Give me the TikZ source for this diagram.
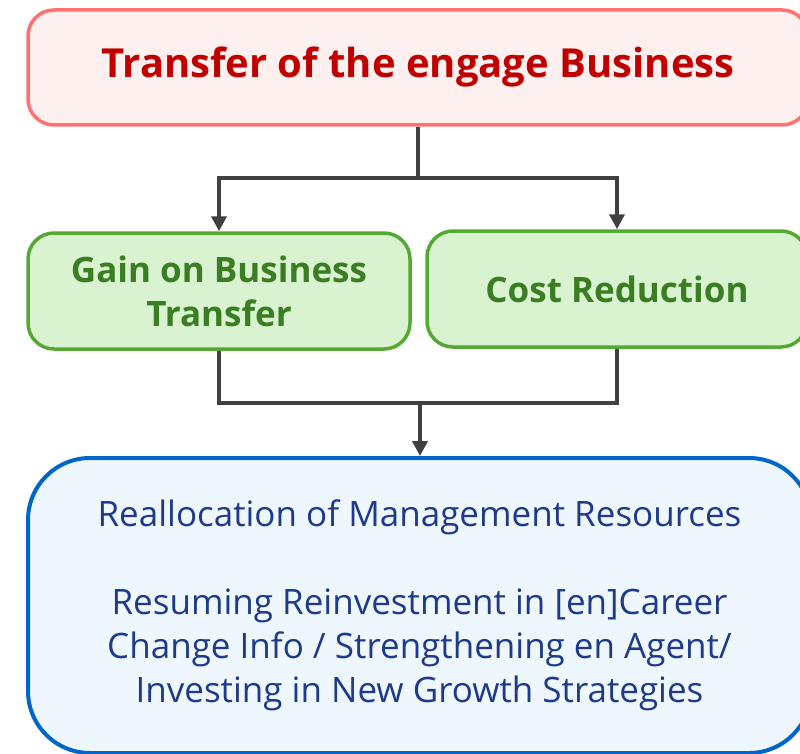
\documentclass[tikz,border=0pt]{standalone}
\usepackage{fontspec}
\setmainfont{Open Sans}
\usepackage{tikz}
\usetikzlibrary{arrows.meta,positioning}
\definecolor{headline}{HTML}{FF7070}
\definecolor{headfill}{HTML}{FDF0EE}
\definecolor{headtext}{HTML}{C00000}
\definecolor{effline}{HTML}{55A834}
\definecolor{efffill}{HTML}{D9F2D0}
\definecolor{efftext}{HTML}{3A7D22}
\definecolor{resline}{HTML}{0066CC}
\definecolor{resfill}{HTML}{EEF6FE}
\definecolor{restext}{HTML}{1F3A8A}
\definecolor{wire}{HTML}{404040}

\tikzset{
  headbox/.style={draw=headline, fill=headfill, line width=3.5pt, rounded corners=26pt,
    text=headtext, font=\fontsize{40}{44}\selectfont\bfseries,
    minimum width=780pt, minimum height=115pt},
  effbox/.style={draw=effline, fill=efffill, line width=3.5pt, rounded corners=26pt,
    text=efftext, font=\fontsize{35}{44}\selectfont\bfseries, align=center,
    minimum height=116pt},
  resbox/.style={draw=resline, fill=resfill, line width=4pt, rounded corners=62pt,
    text=restext, font=\fontsize{35}{44}\selectfont, align=center,
    minimum width=783pt, minimum height=295pt},
  wire/.style={draw=wire, line width=4.5pt},
}

\begin{document}
\begin{tikzpicture}[x=1pt,y=-1pt,>={Triangle[width=15pt,length=15pt]}]
        \useasboundingbox (0,0) rectangle (800,754);
        \path
        (418,67.5) node[headbox](head) {Transfer of the engage Business}
        (219,291) node[effbox,minimum width=382pt](gain) {Gain on Business\\Transfer}
        (617,289) node[effbox,minimum width=380pt](cost) {Cost Reduction}
        (419.5,605.5) node[resbox](res) {Reallocation of Management Resources\\[44pt]
          Resuming Reinvestment in [en]Career\\
          Change Info / Strengthening en Agent/\\
          Investing in New Growth Strategies}
        ;
        % split below the headline, merge above the result
        \coordinate (split) at (418,178);
        \coordinate (merge) at (420,403);

        \draw[wire] (head.south) -- (split);
        \draw[wire,->] (split) -| (gain.north);
        \draw[wire,->] (split) -| (cost.north);
        \draw[wire] (gain.south) |- (merge);
        \draw[wire] (cost.south) |- (merge);
        \draw[wire,->] (merge) -- (res.north -| merge);
      \end{tikzpicture}
\end{document}
